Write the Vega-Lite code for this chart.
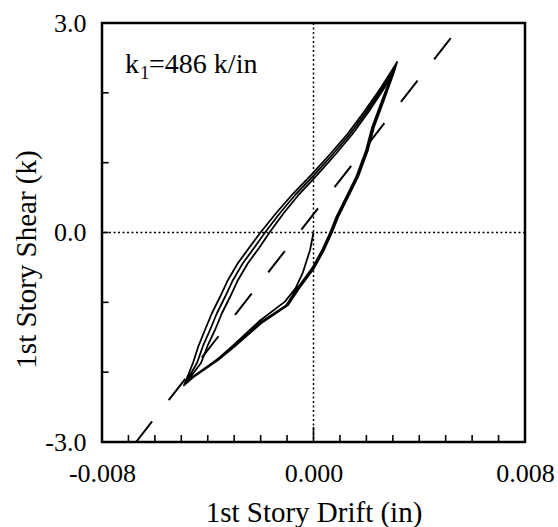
{
  "$schema": "https://vega.github.io/schema/vega-lite/v6.json",
  "width": 423,
  "height": 419,
  "autosize": {"type": "none"},
  "padding": {"left": 102, "top": 23, "right": 33, "bottom": 85},
  "background": "white",
  "config": {
    "view": {"stroke": "black", "strokeWidth": 2.5},
    "font": "Liberation Serif"
  },
  "datasets": {
    "loops": [
      {"i": 0, "d": 0, "v": 0},
      {"i": 1, "d": -0.00013, "v": -0.25},
      {"i": 2, "d": -0.0004, "v": -0.57},
      {"i": 3, "d": -0.00068, "v": -0.8},
      {"i": 4, "d": -0.00108, "v": -0.99},
      {"i": 5, "d": -0.00202, "v": -1.26},
      {"i": 6, "d": -0.00305, "v": -1.62},
      {"i": 7, "d": -0.00365, "v": -1.82},
      {"i": 8, "d": -0.00456, "v": -2.07},
      {"i": 9, "d": -0.0049, "v": -2.19},
      {"i": 10, "d": -0.004559, "v": -1.869},
      {"i": 11, "d": -0.004351, "v": -1.625},
      {"i": 12, "d": -0.004105, "v": -1.396},
      {"i": 13, "d": -0.00384, "v": -1.153},
      {"i": 14, "d": -0.003538, "v": -0.924},
      {"i": 15, "d": -0.003235, "v": -0.68},
      {"i": 16, "d": -0.002857, "v": -0.437},
      {"i": 17, "d": -0.00244, "v": -0.222},
      {"i": 18, "d": -0.002006, "v": 0.0},
      {"i": 19, "d": -0.00141, "v": 0.279},
      {"i": 20, "d": -0.000786, "v": 0.551},
      {"i": 21, "d": -0.000095, "v": 0.823},
      {"i": 22, "d": 0.000633, "v": 1.124},
      {"i": 23, "d": 0.001285, "v": 1.41},
      {"i": 24, "d": 0.001934, "v": 1.74},
      {"i": 25, "d": 0.002563, "v": 2.08},
      {"i": 26, "d": 0.00316, "v": 2.44},
      {"i": 27, "d": 0.00303, "v": 2.28},
      {"i": 28, "d": 0.00267, "v": 1.9},
      {"i": 29, "d": 0.00229, "v": 1.51},
      {"i": 30, "d": 0.00206, "v": 1.18},
      {"i": 31, "d": 0.00169, "v": 0.8},
      {"i": 32, "d": 0.00131, "v": 0.51},
      {"i": 33, "d": 0.00093, "v": 0.22},
      {"i": 34, "d": 0.0007, "v": 0.0},
      {"i": 35, "d": 0.0004, "v": -0.25},
      {"i": 36, "d": 0.00002, "v": -0.51},
      {"i": 37, "d": -0.00058, "v": -0.82},
      {"i": 38, "d": -0.00096, "v": -1.04},
      {"i": 39, "d": -0.00198, "v": -1.3},
      {"i": 40, "d": -0.00301, "v": -1.64},
      {"i": 41, "d": -0.00362, "v": -1.83},
      {"i": 42, "d": -0.00454, "v": -2.07},
      {"i": 43, "d": -0.0049, "v": -2.19},
      {"i": 44, "d": -0.004407, "v": -1.869},
      {"i": 45, "d": -0.00418, "v": -1.625},
      {"i": 46, "d": -0.003915, "v": -1.396},
      {"i": 47, "d": -0.00365, "v": -1.153},
      {"i": 48, "d": -0.003348, "v": -0.924},
      {"i": 49, "d": -0.003045, "v": -0.68},
      {"i": 50, "d": -0.002667, "v": -0.437},
      {"i": 51, "d": -0.00225, "v": -0.222},
      {"i": 52, "d": -0.001835, "v": 0.0},
      {"i": 53, "d": -0.001267, "v": 0.279},
      {"i": 54, "d": -0.000662, "v": 0.551},
      {"i": 55, "d": 0.000019, "v": 0.823},
      {"i": 56, "d": 0.000738, "v": 1.124},
      {"i": 57, "d": 0.00138, "v": 1.41},
      {"i": 58, "d": 0.00202, "v": 1.74},
      {"i": 59, "d": 0.00263, "v": 2.08},
      {"i": 60, "d": 0.00316, "v": 2.44},
      {"i": 61, "d": 0.00299, "v": 2.28},
      {"i": 62, "d": 0.0026, "v": 1.9},
      {"i": 63, "d": 0.00222, "v": 1.51},
      {"i": 64, "d": 0.00199, "v": 1.18},
      {"i": 65, "d": 0.00162, "v": 0.8},
      {"i": 66, "d": 0.00124, "v": 0.51},
      {"i": 67, "d": 0.00086, "v": 0.22},
      {"i": 68, "d": 0.00063, "v": 0.0},
      {"i": 69, "d": 0.00033, "v": -0.25},
      {"i": 70, "d": -0.00005, "v": -0.51},
      {"i": 71, "d": -0.00065, "v": -0.82},
      {"i": 72, "d": -0.00103, "v": -1.04},
      {"i": 73, "d": -0.00205, "v": -1.3},
      {"i": 74, "d": -0.00308, "v": -1.64},
      {"i": 75, "d": -0.00368, "v": -1.83},
      {"i": 76, "d": -0.00458, "v": -2.07},
      {"i": 77, "d": -0.0049, "v": -2.19},
      {"i": 78, "d": -0.004255, "v": -1.869},
      {"i": 79, "d": -0.004009, "v": -1.625},
      {"i": 80, "d": -0.003725, "v": -1.396},
      {"i": 81, "d": -0.00346, "v": -1.153},
      {"i": 82, "d": -0.003158, "v": -0.924},
      {"i": 83, "d": -0.002855, "v": -0.68},
      {"i": 84, "d": -0.002477, "v": -0.437},
      {"i": 85, "d": -0.00206, "v": -0.222},
      {"i": 86, "d": -0.001664, "v": 0.0},
      {"i": 87, "d": -0.001124, "v": 0.279},
      {"i": 88, "d": -0.000538, "v": 0.551},
      {"i": 89, "d": 0.000133, "v": 0.823},
      {"i": 90, "d": 0.000843, "v": 1.124},
      {"i": 91, "d": 0.001475, "v": 1.41},
      {"i": 92, "d": 0.002106, "v": 1.74},
      {"i": 93, "d": 0.002697, "v": 2.08},
      {"i": 94, "d": 0.00316, "v": 2.44}
    ],
    "stiffness": [
      {"i": 0, "d": 0.00519, "v": 2.785},
      {"i": 1, "d": -0.00671, "v": -3.0}
    ],
    "driftTicks": [
      {"t": -0.007, "lo": -3, "hi": -2.9},
      {"t": -0.006, "lo": -3, "hi": -2.9},
      {"t": -0.005, "lo": -3, "hi": -2.9},
      {"t": -0.004, "lo": -3, "hi": -2.9},
      {"t": -0.003, "lo": -3, "hi": -2.9},
      {"t": -0.002, "lo": -3, "hi": -2.9},
      {"t": -0.001, "lo": -3, "hi": -2.9},
      {"t": 0, "lo": -3, "hi": -2.785},
      {"t": 0.001, "lo": -3, "hi": -2.9},
      {"t": 0.002, "lo": -3, "hi": -2.9},
      {"t": 0.003, "lo": -3, "hi": -2.9},
      {"t": 0.004, "lo": -3, "hi": -2.9},
      {"t": 0.005, "lo": -3, "hi": -2.9},
      {"t": 0.006, "lo": -3, "hi": -2.9},
      {"t": 0.007, "lo": -3, "hi": -2.9}
    ],
    "shearTicks": [
      {"t": -2, "lo": -0.008, "hi": -0.00775},
      {"t": -1, "lo": -0.008, "hi": -0.00775},
      {"t": 0, "lo": -0.008, "hi": -0.00775},
      {"t": 1, "lo": -0.008, "hi": -0.00775},
      {"t": 2, "lo": -0.008, "hi": -0.00775}
    ]
  },
  "layer": [
    {
      "data": {"values": [{}]},
      "mark": {"type": "rule", "color": "black", "strokeWidth": 1.5, "strokeDash": [2, 2.5]},
      "encoding": {"x": {"datum": 0, "type": "quantitative"}}
    },
    {
      "data": {"values": [{}]},
      "mark": {"type": "rule", "color": "black", "strokeWidth": 1.5, "strokeDash": [2, 2.5]},
      "encoding": {"y": {"datum": 0, "type": "quantitative"}}
    },
    {
      "data": {"name": "driftTicks"},
      "mark": {"type": "line", "color": "black", "strokeWidth": 1.6},
      "transform": [{"fold": ["lo", "hi"], "as": ["end", "level"]}],
      "encoding": {
        "x": {"field": "t", "type": "quantitative"},
        "y": {"field": "level", "type": "quantitative"},
        "detail": {"field": "t", "type": "quantitative"}
      }
    },
    {
      "data": {"name": "shearTicks"},
      "mark": {"type": "line", "color": "black", "strokeWidth": 1.6},
      "transform": [{"fold": ["lo", "hi"], "as": ["end", "level"]}],
      "encoding": {
        "y": {"field": "t", "type": "quantitative"},
        "x": {"field": "level", "type": "quantitative"},
        "detail": {"field": "t", "type": "quantitative"},
        "order": {"field": "level", "type": "quantitative"}
      }
    },
    {
      "data": {"name": "stiffness"},
      "mark": {"type": "line", "color": "black", "strokeWidth": 2, "strokeDash": [27, 27]},
      "encoding": {
        "x": {"field": "d", "type": "quantitative"},
        "y": {"field": "v", "type": "quantitative"},
        "order": {"field": "i"}
      }
    },
    {
      "data": {"name": "loops"},
      "mark": {"type": "line", "color": "black", "strokeWidth": 1.8, "strokeJoin": "round"},
      "encoding": {
        "x": {
          "field": "d",
          "type": "quantitative",
          "title": "1st Story Drift (in)",
          "scale": {"domain": [-0.008, 0.008], "nice": false, "zero": false},
          "axis": {
            "values": [-0.008, 0, 0.008],
            "labelExpr": "abs(datum.value) < 0.0001 ? '0.000' : datum.value < 0 ? '-0.008' : '0.008'",
            "grid": false,
            "domain": false,
            "ticks": false,
            "labelFlush": false,
            "labelOverlap": false,
            "labelFont": "Liberation Serif",
            "labelFontSize": 26,
            "labelColor": "black",
            "labelBaseline": "alphabetic",
            "labelPadding": 39,
            "titleFont": "Liberation Serif",
            "titleFontSize": 29,
            "titleFontWeight": "normal",
            "titleColor": "black",
            "titleBaseline": "alphabetic",
            "titleY": 79
          }
        },
        "y": {
          "field": "v",
          "type": "quantitative",
          "title": "1st Story Shear (k)",
          "scale": {"domain": [-3, 3], "nice": false, "zero": false},
          "axis": {
            "values": [-3, 0, 3],
            "labelExpr": "abs(datum.value) < 0.01 ? '0.0' : datum.value < 0 ? '-3.0' : '3.0'",
            "grid": false,
            "domain": false,
            "ticks": false,
            "labelFlush": false,
            "labelOverlap": false,
            "labelFont": "Liberation Serif",
            "labelFontSize": 26,
            "labelColor": "black",
            "labelAlign": "right",
            "labelBaseline": "middle",
            "labelPadding": 16,
            "titleFont": "Liberation Serif",
            "titleFontSize": 29,
            "titleFontWeight": "normal",
            "titleColor": "black",
            "titleBaseline": "alphabetic",
            "titleX": -67,
            "titleY": 236
          }
        },
        "order": {"field": "i"}
      }
    },
    {
      "data": {"values": [{}]},
      "mark": {"type": "text", "align": "left", "baseline": "alphabetic", "font": "Liberation Serif", "fontSize": 28, "color": "black"},
      "encoding": {
        "x": {"datum": -0.00713, "type": "quantitative"},
        "y": {"datum": 2.284, "type": "quantitative"},
        "text": {"value": "k"}
      }
    },
    {
      "data": {"values": [{}]},
      "mark": {"type": "text", "align": "left", "baseline": "alphabetic", "font": "Liberation Serif", "fontSize": 18, "color": "black"},
      "encoding": {
        "x": {"datum": -0.00655, "type": "quantitative"},
        "y": {"datum": 2.2, "type": "quantitative"},
        "text": {"value": "1"}
      }
    },
    {
      "data": {"values": [{}]},
      "mark": {"type": "text", "align": "left", "baseline": "alphabetic", "font": "Liberation Serif", "fontSize": 28, "color": "black"},
      "encoding": {
        "x": {"datum": -0.00622, "type": "quantitative"},
        "y": {"datum": 2.284, "type": "quantitative"},
        "text": {"value": "=486 k/in"}
      }
    }
  ]
}
